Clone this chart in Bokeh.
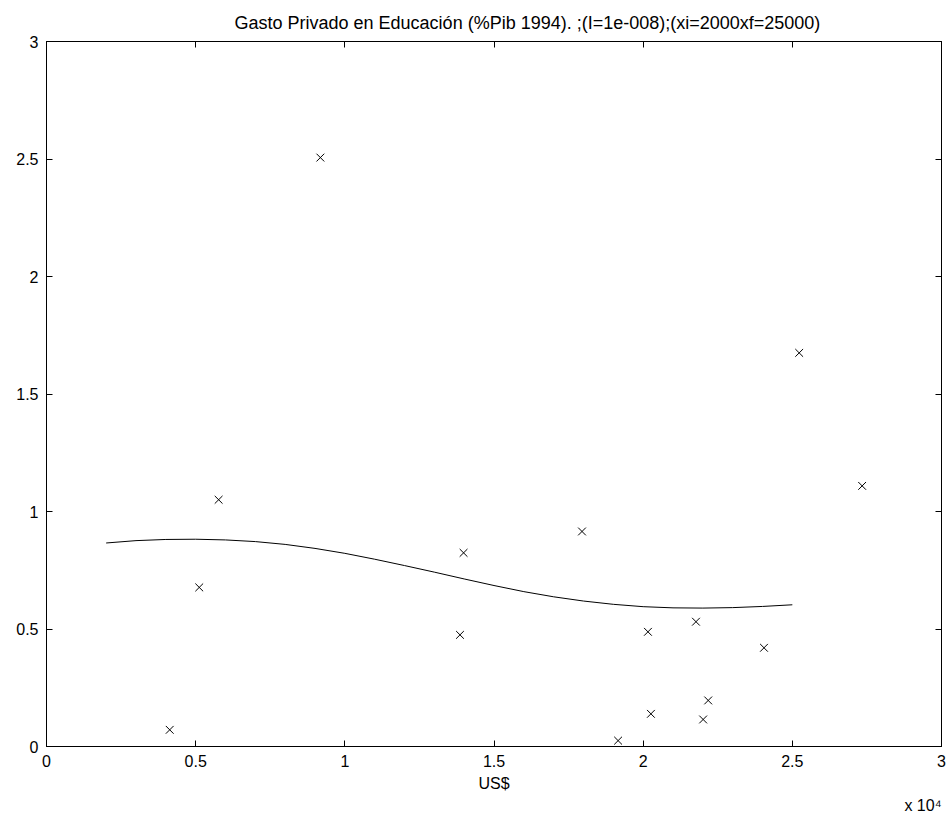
from bokeh.plotting import figure
from bokeh.models import LinearAxis, FixedTicker, Title, Range1d
from bokeh.embed import file_html
from bokeh.resources import INLINE

# ---- data ----
title_text = "Gasto Privado en Educación (%Pib 1994). ;(I=1e-008);(xi=2000xf=25000)"
x_label = "US$"

obs_x = [4130, 5120, 5770, 9180, 13860, 13980, 17950, 19160, 20160, 20260,
         21770, 22010, 22180, 24050, 25230, 27340]
obs_y = [0.071, 0.677, 1.050, 2.506, 0.475, 0.824, 0.915, 0.025, 0.488, 0.139,
         0.531, 0.115, 0.196, 0.420, 1.675, 1.109]

fit_x = [2000, 3000, 4000, 5000, 6000, 7000, 8000, 9000, 10000, 11000, 12000,
         13000, 14000, 15000, 16000, 17000, 18000, 19000, 20000, 21000, 22000,
         23000, 24000, 25000]
fit_y = [0.866, 0.876, 0.881, 0.882, 0.879, 0.872, 0.860, 0.843, 0.822, 0.797,
         0.770, 0.742, 0.713, 0.685, 0.659, 0.637, 0.619, 0.605, 0.595, 0.590,
         0.589, 0.591, 0.596, 0.603]

x_ticks = [0, 5000, 10000, 15000, 20000, 25000, 30000]
x_tick_labels = ["0", "0.5", "1", "1.5", "2", "2.5", "3"]
y_ticks = [0, 0.5, 1, 1.5, 2, 2.5, 3]
y_tick_labels = ["0", "0.5", "1", "1.5", "2", "2.5", "3"]
scale_text = "x 10\u2074"

FONT = "Liberation Sans"

p = figure(width=952, height=816, output_backend="svg", toolbar_location=None,
           x_range=Range1d(0, 30000), y_range=Range1d(0, 3),
           x_axis_location=None, y_axis_location=None,
           min_border_left=46, min_border_right=11, min_border_top=41,
           min_border_bottom=70)
p.background_fill_color = "white"
p.border_fill_color = "white"
p.outline_line_color = "black"
p.outline_line_width = 1
p.grid.visible = False

p.title = Title(text=title_text, align="left", offset=188,
                text_font=FONT, text_font_size="18px",
                text_font_style="normal", text_color="black", standoff=17)

def style_axis(ax):
    ax.major_tick_in = 6
    ax.major_tick_out = 0
    ax.minor_tick_in = 0
    ax.minor_tick_out = 0
    ax.axis_line_color = "black"
    ax.major_tick_line_color = "black"
    ax.major_label_text_font = FONT
    ax.major_label_text_color = "black"
    ax.major_label_text_font_size = "16px"

xb = LinearAxis(ticker=FixedTicker(ticks=x_ticks),
                major_label_overrides=dict(zip(x_ticks, x_tick_labels)))
style_axis(xb)
xb.major_label_standoff = 8
xb.axis_label = x_label
xb.axis_label_text_font = FONT
xb.axis_label_text_font_size = "16px"
xb.axis_label_text_font_style = "normal"
xb.axis_label_text_color = "black"
xb.axis_label_standoff = 5
p.add_layout(xb, "below")

p.add_layout(Title(text=scale_text, align="right", text_font=FONT,
                   text_font_size="16px", text_font_style="normal",
                   text_color="black", standoff=0), "below")

yl = LinearAxis(ticker=FixedTicker(ticks=y_ticks),
                major_label_overrides=dict(zip(y_ticks, y_tick_labels)))
style_axis(yl)
yl.major_label_standoff = 8
p.add_layout(yl, "left")

xt = LinearAxis(ticker=FixedTicker(ticks=x_ticks),
                major_label_overrides={t: "" for t in x_ticks})
style_axis(xt)
xt.major_label_standoff = 0
p.add_layout(xt, "above")

yr = LinearAxis(ticker=FixedTicker(ticks=y_ticks),
                major_label_overrides={t: "" for t in y_ticks})
style_axis(yr)
yr.major_label_standoff = 0
p.add_layout(yr, "right")

p.line(fit_x, fit_y, line_color="black", line_width=1)
p.scatter(obs_x, obs_y, marker="x", size=11, line_color="black", line_width=1)

open("out.html", "w").write(file_html(p, INLINE))
